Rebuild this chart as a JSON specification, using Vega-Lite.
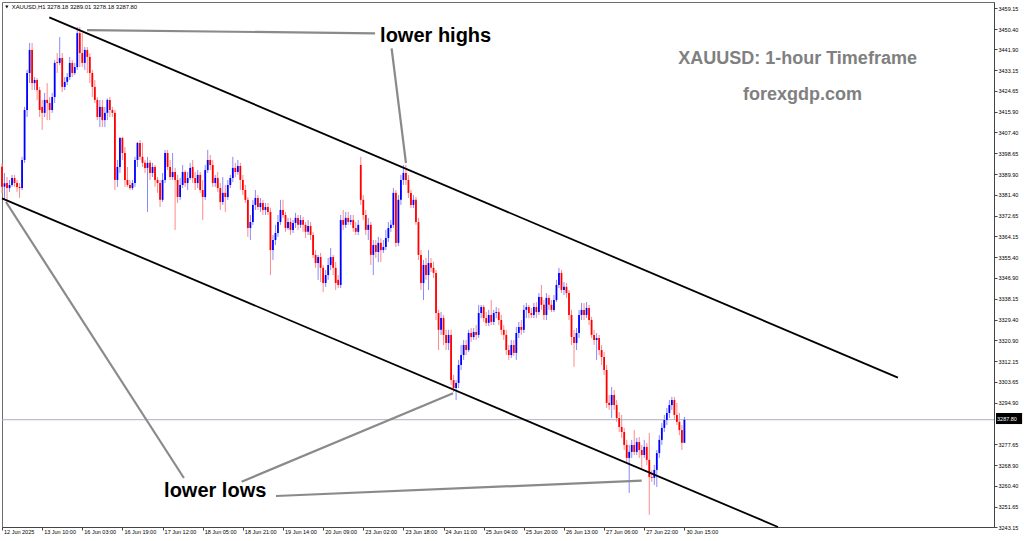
{
"$schema":"https://vega.github.io/schema/vega-lite/v6.json",
"width":992,"height":525,
"autosize":{"type":"none"},
"padding":{"left":2,"top":2,"right":30,"bottom":14},
"background":"white",
"config":{"view":{"stroke":"#6e6e6e","strokeWidth":1},"axis":{"labelFont":"Liberation Sans","labelFontSize":5.5,"labelColor":"#000000","tickColor":"#444444","domainColor":"#444444","grid":false,"labelOverlap":false,"labelFlush":false,"labelBound":false}},
"datasets":{
"candles":[
{"i":0,"o":3393.1,"h":3394.5,"l":3382.0,"c":3384.8},
{"i":1,"o":3384.8,"h":3390.5,"l":3379.3,"c":3386.2},
{"i":2,"o":3386.3,"h":3388.8,"l":3378.4,"c":3384.2},
{"i":3,"o":3384.2,"h":3387.6,"l":3382.6,"c":3385.5},
{"i":4,"o":3385.5,"h":3389.7,"l":3384.7,"c":3388.4},
{"i":5,"o":3388.4,"h":3389.7,"l":3384.7,"c":3386.3},
{"i":6,"o":3386.3,"h":3387.6,"l":3382.6,"c":3384.7},
{"i":7,"o":3384.7,"h":3386.3,"l":3380.1,"c":3384.2},
{"i":8,"o":3384.2,"h":3397.2,"l":3383.4,"c":3395.9},
{"i":9,"o":3395.9,"h":3418.0,"l":3394.7,"c":3416.7},
{"i":10,"o":3416.7,"h":3433.4,"l":3413.8,"c":3432.1},
{"i":11,"o":3432.1,"h":3444.6,"l":3427.9,"c":3441.7},
{"i":12,"o":3441.7,"h":3444.6,"l":3425.0,"c":3427.9},
{"i":13,"o":3427.9,"h":3430.4,"l":3425.0,"c":3429.2},
{"i":14,"o":3429.2,"h":3430.0,"l":3420.9,"c":3425.0},
{"i":15,"o":3425.0,"h":3426.3,"l":3413.8,"c":3416.7},
{"i":16,"o":3418.0,"h":3420.9,"l":3408.4,"c":3415.5},
{"i":17,"o":3415.5,"h":3423.8,"l":3413.8,"c":3420.9},
{"i":18,"o":3420.9,"h":3427.9,"l":3412.5,"c":3419.6},
{"i":19,"o":3419.6,"h":3422.1,"l":3412.5,"c":3416.7},
{"i":20,"o":3416.7,"h":3423.8,"l":3415.5,"c":3422.1},
{"i":21,"o":3422.1,"h":3437.5,"l":3419.6,"c":3436.3},
{"i":22,"o":3436.7,"h":3440.4,"l":3432.1,"c":3436.3},
{"i":23,"o":3436.3,"h":3447.1,"l":3435.4,"c":3438.3},
{"i":24,"o":3438.3,"h":3440.4,"l":3424.2,"c":3426.3},
{"i":25,"o":3426.3,"h":3430.4,"l":3425.0,"c":3428.4},
{"i":26,"o":3428.4,"h":3432.1,"l":3427.1,"c":3430.4},
{"i":27,"o":3430.4,"h":3438.8,"l":3429.2,"c":3436.3},
{"i":28,"o":3436.3,"h":3437.5,"l":3430.4,"c":3432.1},
{"i":29,"o":3432.1,"h":3436.3,"l":3431.3,"c":3434.6},
{"i":30,"o":3434.6,"h":3451.2,"l":3433.4,"c":3448.7},
{"i":31,"o":3448.7,"h":3451.2,"l":3434.6,"c":3440.4},
{"i":32,"o":3440.4,"h":3448.7,"l":3434.6,"c":3436.3},
{"i":33,"o":3436.3,"h":3442.9,"l":3433.4,"c":3441.7},
{"i":34,"o":3441.7,"h":3442.9,"l":3432.1,"c":3438.8},
{"i":35,"o":3438.8,"h":3440.4,"l":3427.9,"c":3432.1},
{"i":36,"o":3432.1,"h":3433.4,"l":3422.1,"c":3426.3},
{"i":37,"o":3426.3,"h":3429.2,"l":3419.6,"c":3420.9},
{"i":38,"o":3420.9,"h":3422.1,"l":3412.5,"c":3413.8},
{"i":39,"o":3413.8,"h":3420.9,"l":3409.6,"c":3418.0},
{"i":40,"o":3418.0,"h":3420.9,"l":3409.6,"c":3412.5},
{"i":41,"o":3412.5,"h":3418.0,"l":3409.6,"c":3415.5},
{"i":42,"o":3415.5,"h":3421.5,"l":3412.5,"c":3420.9},
{"i":43,"o":3420.9,"h":3422.1,"l":3413.8,"c":3416.7},
{"i":44,"o":3416.7,"h":3418.0,"l":3413.8,"c":3415.5},
{"i":45,"o":3415.5,"h":3416.7,"l":3383.4,"c":3387.6},
{"i":46,"o":3387.6,"h":3395.9,"l":3384.7,"c":3393.0},
{"i":47,"o":3393.0,"h":3405.5,"l":3390.5,"c":3405.1},
{"i":48,"o":3405.1,"h":3405.5,"l":3395.9,"c":3398.8},
{"i":49,"o":3398.8,"h":3401.3,"l":3384.7,"c":3387.6},
{"i":50,"o":3387.6,"h":3393.0,"l":3384.7,"c":3385.5},
{"i":51,"o":3385.5,"h":3387.6,"l":3383.4,"c":3384.2},
{"i":52,"o":3384.2,"h":3387.6,"l":3383.4,"c":3386.3},
{"i":53,"o":3386.3,"h":3397.2,"l":3384.7,"c":3395.9},
{"i":54,"o":3395.9,"h":3403.4,"l":3393.0,"c":3403.0},
{"i":55,"o":3403.0,"h":3404.2,"l":3395.9,"c":3397.2},
{"i":56,"o":3397.2,"h":3403.0,"l":3393.0,"c":3394.7},
{"i":57,"o":3394.7,"h":3395.9,"l":3390.5,"c":3392.6},
{"i":58,"o":3392.6,"h":3397.2,"l":3374.3,"c":3394.7},
{"i":59,"o":3394.7,"h":3395.9,"l":3387.6,"c":3390.5},
{"i":60,"o":3390.5,"h":3394.7,"l":3388.8,"c":3393.0},
{"i":61,"o":3393.0,"h":3393.8,"l":3384.7,"c":3387.6},
{"i":62,"o":3387.6,"h":3388.8,"l":3382.2,"c":3386.3},
{"i":63,"o":3386.3,"h":3387.6,"l":3376.3,"c":3379.3},
{"i":64,"o":3379.3,"h":3390.5,"l":3378.4,"c":3387.6},
{"i":65,"o":3387.6,"h":3400.1,"l":3386.3,"c":3398.8},
{"i":66,"o":3398.8,"h":3400.1,"l":3391.7,"c":3393.0},
{"i":67,"o":3393.0,"h":3395.9,"l":3387.6,"c":3388.8},
{"i":68,"o":3388.8,"h":3398.8,"l":3387.6,"c":3390.9},
{"i":69,"o":3390.9,"h":3392.6,"l":3366.8,"c":3387.6},
{"i":70,"o":3387.6,"h":3389.7,"l":3378.0,"c":3380.5},
{"i":71,"o":3380.5,"h":3388.4,"l":3379.3,"c":3385.5},
{"i":72,"o":3385.5,"h":3393.8,"l":3384.2,"c":3390.9},
{"i":73,"o":3390.9,"h":3391.7,"l":3384.7,"c":3386.3},
{"i":74,"o":3386.3,"h":3390.9,"l":3383.4,"c":3388.4},
{"i":75,"o":3388.4,"h":3394.7,"l":3387.6,"c":3392.6},
{"i":76,"o":3393.0,"h":3395.9,"l":3386.3,"c":3388.4},
{"i":77,"o":3388.4,"h":3390.9,"l":3383.4,"c":3386.3},
{"i":78,"o":3386.3,"h":3391.7,"l":3384.2,"c":3389.7},
{"i":79,"o":3389.7,"h":3390.9,"l":3382.2,"c":3383.4},
{"i":80,"o":3383.4,"h":3387.6,"l":3370.9,"c":3380.5},
{"i":81,"o":3380.5,"h":3393.8,"l":3379.3,"c":3391.7},
{"i":82,"o":3391.7,"h":3400.1,"l":3390.5,"c":3395.9},
{"i":83,"o":3395.9,"h":3398.0,"l":3391.7,"c":3393.8},
{"i":84,"o":3393.8,"h":3395.9,"l":3384.7,"c":3386.3},
{"i":85,"o":3386.3,"h":3389.7,"l":3384.7,"c":3388.4},
{"i":86,"o":3388.4,"h":3390.9,"l":3382.6,"c":3384.2},
{"i":87,"o":3384.2,"h":3386.3,"l":3375.1,"c":3378.4},
{"i":88,"o":3378.4,"h":3388.8,"l":3377.2,"c":3382.2},
{"i":89,"o":3382.2,"h":3385.5,"l":3374.3,"c":3380.5},
{"i":90,"o":3380.5,"h":3387.6,"l":3379.3,"c":3385.5},
{"i":91,"o":3385.5,"h":3389.7,"l":3384.2,"c":3388.4},
{"i":92,"o":3388.4,"h":3397.2,"l":3386.7,"c":3392.6},
{"i":93,"o":3392.6,"h":3394.7,"l":3388.8,"c":3390.9},
{"i":94,"o":3390.9,"h":3395.9,"l":3389.7,"c":3393.4},
{"i":95,"o":3393.4,"h":3394.7,"l":3383.4,"c":3387.6},
{"i":96,"o":3387.6,"h":3389.7,"l":3381.3,"c":3383.4},
{"i":97,"o":3383.4,"h":3385.5,"l":3378.0,"c":3379.3},
{"i":98,"o":3379.3,"h":3380.5,"l":3363.9,"c":3367.6},
{"i":99,"o":3367.6,"h":3373.0,"l":3362.6,"c":3370.1},
{"i":100,"o":3370.1,"h":3379.3,"l":3368.9,"c":3377.2},
{"i":101,"o":3377.2,"h":3383.4,"l":3375.1,"c":3380.1},
{"i":102,"o":3380.1,"h":3381.3,"l":3375.1,"c":3376.3},
{"i":103,"o":3376.3,"h":3380.1,"l":3374.3,"c":3378.0},
{"i":104,"o":3378.0,"h":3379.3,"l":3373.0,"c":3375.1},
{"i":105,"o":3375.1,"h":3378.0,"l":3373.0,"c":3376.3},
{"i":106,"o":3376.3,"h":3378.0,"l":3373.0,"c":3374.3},
{"i":107,"o":3374.3,"h":3376.0,"l":3348.0,"c":3358.4},
{"i":108,"o":3358.4,"h":3364.7,"l":3354.3,"c":3362.6},
{"i":109,"o":3362.6,"h":3368.9,"l":3360.5,"c":3365.5},
{"i":110,"o":3365.5,"h":3373.0,"l":3363.9,"c":3370.1},
{"i":111,"o":3370.1,"h":3379.3,"l":3368.9,"c":3375.1},
{"i":112,"o":3375.1,"h":3379.3,"l":3371.8,"c":3373.0},
{"i":113,"o":3373.0,"h":3374.3,"l":3366.0,"c":3367.6},
{"i":114,"o":3367.6,"h":3371.8,"l":3366.8,"c":3370.1},
{"i":115,"o":3370.1,"h":3371.8,"l":3364.7,"c":3366.8},
{"i":116,"o":3366.8,"h":3370.9,"l":3365.5,"c":3369.7},
{"i":117,"o":3369.7,"h":3373.9,"l":3367.6,"c":3371.8},
{"i":118,"o":3371.8,"h":3373.0,"l":3366.8,"c":3368.9},
{"i":119,"o":3368.9,"h":3373.0,"l":3367.6,"c":3370.9},
{"i":120,"o":3370.9,"h":3372.2,"l":3366.0,"c":3368.9},
{"i":121,"o":3368.9,"h":3370.1,"l":3363.4,"c":3366.0},
{"i":122,"o":3366.0,"h":3370.9,"l":3364.7,"c":3368.4},
{"i":123,"o":3368.4,"h":3370.1,"l":3362.6,"c":3364.7},
{"i":124,"o":3364.7,"h":3366.0,"l":3355.1,"c":3356.4},
{"i":125,"o":3356.4,"h":3358.4,"l":3351.0,"c":3353.0},
{"i":126,"o":3353.0,"h":3356.4,"l":3346.0,"c":3355.5},
{"i":127,"o":3355.5,"h":3357.2,"l":3345.1,"c":3351.0},
{"i":128,"o":3351.0,"h":3352.2,"l":3340.9,"c":3344.7},
{"i":129,"o":3344.7,"h":3350.1,"l":3343.1,"c":3348.0},
{"i":130,"o":3348.0,"h":3355.1,"l":3346.0,"c":3352.2},
{"i":131,"o":3352.2,"h":3359.3,"l":3350.1,"c":3355.5},
{"i":132,"o":3355.5,"h":3356.4,"l":3348.0,"c":3351.0},
{"i":133,"o":3351.0,"h":3353.5,"l":3341.8,"c":3344.7},
{"i":134,"o":3346.0,"h":3348.0,"l":3342.6,"c":3343.9},
{"i":135,"o":3343.9,"h":3373.0,"l":3342.6,"c":3370.9},
{"i":136,"o":3370.9,"h":3375.1,"l":3366.8,"c":3368.9},
{"i":137,"o":3368.9,"h":3374.3,"l":3367.6,"c":3371.8},
{"i":138,"o":3371.8,"h":3374.3,"l":3368.9,"c":3370.1},
{"i":139,"o":3370.1,"h":3373.0,"l":3368.9,"c":3370.9},
{"i":140,"o":3370.9,"h":3373.0,"l":3366.0,"c":3367.6},
{"i":141,"o":3367.6,"h":3370.1,"l":3364.7,"c":3366.0},
{"i":142,"o":3366.0,"h":3370.9,"l":3364.7,"c":3368.9},
{"i":143,"o":3393.8,"h":3397.2,"l":3377.2,"c":3379.3},
{"i":144,"o":3379.3,"h":3381.3,"l":3370.9,"c":3373.0},
{"i":145,"o":3373.0,"h":3375.1,"l":3364.7,"c":3366.8},
{"i":146,"o":3366.8,"h":3371.8,"l":3362.6,"c":3368.9},
{"i":147,"o":3368.9,"h":3370.1,"l":3352.2,"c":3356.4},
{"i":148,"o":3356.4,"h":3362.6,"l":3348.0,"c":3360.5},
{"i":149,"o":3360.5,"h":3362.6,"l":3355.1,"c":3357.6},
{"i":150,"o":3357.6,"h":3363.9,"l":3353.4,"c":3361.4},
{"i":151,"o":3361.4,"h":3363.4,"l":3353.4,"c":3358.4},
{"i":152,"o":3358.4,"h":3362.6,"l":3357.2,"c":3359.7},
{"i":153,"o":3359.7,"h":3366.8,"l":3358.4,"c":3363.4},
{"i":154,"o":3363.4,"h":3370.1,"l":3361.8,"c":3367.6},
{"i":155,"o":3367.6,"h":3370.9,"l":3366.0,"c":3368.9},
{"i":156,"o":3368.9,"h":3384.2,"l":3367.6,"c":3382.2},
{"i":157,"o":3382.2,"h":3383.4,"l":3359.7,"c":3361.4},
{"i":158,"o":3361.4,"h":3381.3,"l":3360.1,"c":3379.3},
{"i":159,"o":3379.3,"h":3389.7,"l":3377.2,"c":3387.6},
{"i":160,"o":3387.6,"h":3393.8,"l":3385.5,"c":3390.5},
{"i":161,"o":3390.5,"h":3393.8,"l":3385.5,"c":3387.6},
{"i":162,"o":3387.6,"h":3389.7,"l":3380.1,"c":3382.2},
{"i":163,"o":3382.2,"h":3383.4,"l":3375.9,"c":3377.2},
{"i":164,"o":3377.2,"h":3381.3,"l":3375.9,"c":3379.3},
{"i":165,"o":3379.3,"h":3380.5,"l":3368.9,"c":3370.1},
{"i":166,"o":3370.1,"h":3371.8,"l":3354.3,"c":3356.4},
{"i":167,"o":3356.4,"h":3358.4,"l":3341.8,"c":3344.7},
{"i":168,"o":3344.7,"h":3354.3,"l":3337.6,"c":3352.2},
{"i":169,"o":3352.2,"h":3355.1,"l":3346.0,"c":3348.0},
{"i":170,"o":3348.0,"h":3358.4,"l":3341.8,"c":3353.0},
{"i":171,"o":3353.0,"h":3355.1,"l":3349.3,"c":3351.0},
{"i":172,"o":3351.0,"h":3353.5,"l":3346.8,"c":3348.9},
{"i":173,"o":3348.9,"h":3350.1,"l":3329.3,"c":3332.2},
{"i":174,"o":3332.2,"h":3333.5,"l":3316.8,"c":3325.2},
{"i":175,"o":3325.2,"h":3332.6,"l":3323.1,"c":3330.1},
{"i":176,"o":3330.1,"h":3331.4,"l":3318.9,"c":3323.1},
{"i":177,"o":3323.1,"h":3325.2,"l":3316.8,"c":3319.7},
{"i":178,"o":3319.7,"h":3325.2,"l":3316.8,"c":3323.1},
{"i":179,"o":3323.1,"h":3325.2,"l":3302.3,"c":3304.3},
{"i":180,"o":3304.3,"h":3306.4,"l":3299.3,"c":3301.0},
{"i":181,"o":3301.0,"h":3304.3,"l":3296.0,"c":3303.1},
{"i":182,"o":3303.1,"h":3312.7,"l":3301.0,"c":3310.6},
{"i":183,"o":3310.6,"h":3318.9,"l":3308.5,"c":3314.7},
{"i":184,"o":3314.7,"h":3321.0,"l":3312.7,"c":3318.9},
{"i":185,"o":3318.9,"h":3321.0,"l":3314.7,"c":3316.8},
{"i":186,"o":3316.8,"h":3325.2,"l":3316.0,"c":3323.9},
{"i":187,"o":3323.9,"h":3326.0,"l":3320.2,"c":3322.2},
{"i":188,"o":3322.2,"h":3326.0,"l":3321.0,"c":3324.3},
{"i":189,"o":3324.3,"h":3327.2,"l":3321.0,"c":3323.1},
{"i":190,"o":3323.1,"h":3335.6,"l":3321.8,"c":3332.2},
{"i":191,"o":3332.2,"h":3335.6,"l":3330.1,"c":3334.7},
{"i":192,"o":3334.7,"h":3335.6,"l":3328.5,"c":3330.1},
{"i":193,"o":3330.1,"h":3332.6,"l":3326.8,"c":3328.1},
{"i":194,"o":3328.1,"h":3333.5,"l":3326.8,"c":3331.4},
{"i":195,"o":3331.4,"h":3337.6,"l":3327.2,"c":3328.5},
{"i":196,"o":3328.5,"h":3333.5,"l":3327.2,"c":3332.2},
{"i":197,"o":3332.2,"h":3334.7,"l":3330.1,"c":3332.6},
{"i":198,"o":3332.6,"h":3334.3,"l":3327.2,"c":3329.3},
{"i":199,"o":3329.3,"h":3331.4,"l":3323.1,"c":3325.2},
{"i":200,"o":3325.2,"h":3327.2,"l":3321.0,"c":3323.1},
{"i":201,"o":3323.1,"h":3325.2,"l":3314.7,"c":3316.8},
{"i":202,"o":3316.8,"h":3318.9,"l":3312.7,"c":3314.7},
{"i":203,"o":3314.7,"h":3321.0,"l":3313.5,"c":3318.9},
{"i":204,"o":3318.9,"h":3321.0,"l":3314.3,"c":3315.6},
{"i":205,"o":3315.6,"h":3326.4,"l":3312.7,"c":3323.9},
{"i":206,"o":3323.9,"h":3328.5,"l":3321.8,"c":3326.4},
{"i":207,"o":3326.4,"h":3329.3,"l":3323.1,"c":3325.2},
{"i":208,"o":3325.2,"h":3335.6,"l":3323.9,"c":3333.5},
{"i":209,"o":3333.5,"h":3336.4,"l":3330.1,"c":3334.7},
{"i":210,"o":3334.7,"h":3335.6,"l":3330.1,"c":3332.2},
{"i":211,"o":3332.2,"h":3334.3,"l":3330.1,"c":3331.4},
{"i":212,"o":3331.4,"h":3336.4,"l":3330.1,"c":3334.7},
{"i":213,"o":3334.7,"h":3336.8,"l":3330.1,"c":3332.6},
{"i":214,"o":3332.6,"h":3340.5,"l":3331.4,"c":3338.9},
{"i":215,"o":3338.9,"h":3343.9,"l":3333.5,"c":3335.6},
{"i":216,"o":3335.6,"h":3337.6,"l":3329.3,"c":3331.4},
{"i":217,"o":3331.4,"h":3340.5,"l":3329.3,"c":3338.5},
{"i":218,"o":3338.5,"h":3339.7,"l":3333.5,"c":3335.6},
{"i":219,"o":3335.6,"h":3337.6,"l":3332.6,"c":3333.5},
{"i":220,"o":3333.5,"h":3339.7,"l":3332.6,"c":3337.6},
{"i":221,"o":3337.6,"h":3346.0,"l":3336.8,"c":3343.9},
{"i":222,"o":3343.9,"h":3351.0,"l":3342.6,"c":3348.9},
{"i":223,"o":3348.9,"h":3350.1,"l":3340.5,"c":3341.8},
{"i":224,"o":3341.8,"h":3345.1,"l":3339.7,"c":3343.1},
{"i":225,"o":3343.1,"h":3344.7,"l":3338.5,"c":3340.5},
{"i":226,"o":3340.5,"h":3341.8,"l":3329.3,"c":3331.4},
{"i":227,"o":3331.4,"h":3333.5,"l":3318.9,"c":3322.2},
{"i":228,"o":3322.2,"h":3325.2,"l":3309.8,"c":3319.7},
{"i":229,"o":3319.7,"h":3326.0,"l":3316.8,"c":3323.9},
{"i":230,"o":3323.9,"h":3333.5,"l":3321.8,"c":3331.4},
{"i":231,"o":3331.4,"h":3336.4,"l":3329.3,"c":3333.5},
{"i":232,"o":3333.5,"h":3336.4,"l":3329.3,"c":3331.4},
{"i":233,"o":3331.4,"h":3336.8,"l":3330.1,"c":3334.3},
{"i":234,"o":3334.3,"h":3335.6,"l":3327.2,"c":3329.3},
{"i":235,"o":3329.3,"h":3330.6,"l":3321.8,"c":3323.1},
{"i":236,"o":3323.1,"h":3325.2,"l":3318.9,"c":3321.0},
{"i":237,"o":3321.0,"h":3323.9,"l":3312.7,"c":3321.8},
{"i":238,"o":3321.8,"h":3323.1,"l":3314.7,"c":3316.8},
{"i":239,"o":3316.8,"h":3318.9,"l":3310.6,"c":3313.9},
{"i":240,"o":3313.9,"h":3316.0,"l":3306.4,"c":3308.5},
{"i":241,"o":3308.5,"h":3310.6,"l":3292.7,"c":3294.8},
{"i":242,"o":3294.8,"h":3298.1,"l":3291.9,"c":3293.9},
{"i":243,"o":3293.9,"h":3301.4,"l":3288.5,"c":3298.1},
{"i":244,"o":3298.1,"h":3300.2,"l":3291.9,"c":3293.9},
{"i":245,"o":3293.9,"h":3296.0,"l":3286.9,"c":3288.5},
{"i":246,"o":3288.5,"h":3291.0,"l":3282.7,"c":3284.8},
{"i":247,"o":3284.8,"h":3289.8,"l":3280.2,"c":3282.7},
{"i":248,"o":3282.7,"h":3284.4,"l":3275.2,"c":3277.3},
{"i":249,"o":3277.3,"h":3279.4,"l":3270.2,"c":3271.9},
{"i":250,"o":3271.9,"h":3277.3,"l":3257.3,"c":3274.4},
{"i":251,"o":3274.4,"h":3279.4,"l":3271.9,"c":3277.3},
{"i":252,"o":3277.3,"h":3283.5,"l":3273.1,"c":3274.4},
{"i":253,"o":3274.4,"h":3280.2,"l":3273.1,"c":3278.5},
{"i":254,"o":3278.5,"h":3280.6,"l":3271.9,"c":3275.2},
{"i":255,"o":3275.2,"h":3277.3,"l":3266.9,"c":3273.1},
{"i":256,"o":3273.1,"h":3279.4,"l":3271.9,"c":3276.5},
{"i":257,"o":3276.5,"h":3278.1,"l":3269.0,"c":3271.1},
{"i":258,"o":3271.1,"h":3282.3,"l":3248.2,"c":3264.0},
{"i":259,"o":3264.0,"h":3266.9,"l":3261.9,"c":3263.6},
{"i":260,"o":3263.6,"h":3269.0,"l":3260.6,"c":3266.9},
{"i":261,"o":3266.9,"h":3275.2,"l":3259.8,"c":3273.9},
{"i":262,"o":3273.9,"h":3281.4,"l":3271.9,"c":3279.4},
{"i":263,"o":3279.4,"h":3286.4,"l":3277.3,"c":3284.4},
{"i":264,"o":3284.4,"h":3289.8,"l":3282.7,"c":3287.7},
{"i":265,"o":3287.7,"h":3292.7,"l":3285.6,"c":3290.6},
{"i":266,"o":3290.6,"h":3296.0,"l":3288.5,"c":3293.9},
{"i":267,"o":3293.9,"h":3297.3,"l":3291.9,"c":3296.0},
{"i":268,"o":3296.0,"h":3297.3,"l":3287.7,"c":3289.8},
{"i":269,"o":3289.8,"h":3294.8,"l":3285.6,"c":3286.9},
{"i":270,"o":3286.9,"h":3290.6,"l":3281.4,"c":3283.5},
{"i":271,"o":3283.5,"h":3285.6,"l":3275.2,"c":3278.2},
{"i":272,"o":3278.18,"h":3289.01,"l":3278.18,"c":3287.8}
],
"channel":[
{"x1":18.85,"p1":3455.28,"x2":357.1,"p2":3305.29},
{"x1":0,"p1":3379.91,"x2":309.3,"p2":3243.15}
],
"guides":[
{"x1":33.9,"p1":3449.98,"x2":148.7,"p2":3448.6},
{"x1":155.3,"p1":3442.38,"x2":161.0,"p2":3394.64},
{"x1":1.6,"p1":3378.41,"x2":72.5,"p2":3263.54},
{"x1":95.5,"p1":3262.0,"x2":179.8,"p2":3298.8},
{"x1":109.2,"p1":3256.05,"x2":255.0,"p2":3262.42}
],
"bold":[
{"t":"lower highs","x":150.7,"p":3447.5},
{"t":"lower lows","x":64.6,"p":3258.1}
],
"grey":[
{"t":"XAUUSD: 1-hour Timeframe","x":317.1,"p":3437.8},
{"t":"forexgdp.com","x":319.1,"p":3422.9}
]
},
"layer":[
{"data":{"name":"candles"},
 "mark":{"type":"rule","strokeWidth":1},
 "encoding":{
  "x":{"field":"i","type":"quantitative","scale":{"domain":[0,395.4],"nice":false,"zero":false},
   "axis":{"orient":"bottom","title":null,"grid":false,"tickCount":100,"values":[0,16,32,48,64,80,96,112,128,144,160,176,192,208,224,240,256,272],
    "labelExpr":"['12 Jun 2025','13 Jun 10:00','16 Jun 03:00','16 Jun 19:00','17 Jun 12:00','18 Jun 05:00','18 Jun 21:00','19 Jun 14:00','20 Jun 09:00','23 Jun 02:00','23 Jun 18:00','24 Jun 11:00','25 Jun 04:00','25 Jun 20:00','26 Jun 13:00','27 Jun 06:00','27 Jun 22:00','30 Jun 15:00'][round(datum.value/16)]",
    "labelAlign":"left","labelBaseline":"top","labelOffset":1.5,"labelPadding":-0.5,"tickSize":3,"labelFlush":false,"labelOverlap":false}},
  "y":{"field":"l","type":"quantitative","scale":{"domain":[3243.15,3461.65],"nice":false,"zero":false},
   "axis":{"orient":"right","title":null,"grid":false,"tickCount":100,"values":[3459.15,3450.4,3441.9,3433.15,3424.65,3415.9,3407.4,3398.65,3389.9,3381.4,3372.65,3364.15,3355.4,3346.9,3338.15,3329.4,3320.9,3312.15,3303.65,3294.9,3277.65,3268.9,3260.4,3251.65,3243.15],
    "format":".2f","tickSize":3,"labelPadding":1,"labelAlign":"left","labelBaseline":"middle","labelFlush":false,"labelOverlap":false}},
  "y2":{"field":"h"},
  "color":{"condition":{"test":"datum.c >= datum.o","value":"#8a8aff"},"value":"#ff8a8a"}}},
{"data":{"values":[{"p":3287.8}]},
 "mark":{"type":"rule","color":"#aab2bd","strokeWidth":1},
 "encoding":{"y":{"field":"p","type":"quantitative"}}},
{"data":{"name":"candles"},
 "mark":{"type":"rule","strokeWidth":1.8},
 "encoding":{
  "x":{"field":"i","type":"quantitative"},
  "y":{"field":"o","type":"quantitative"},
  "y2":{"field":"c"},
  "color":{"condition":{"test":"datum.c >= datum.o","value":"#0000ff"},"value":"#ff0000"}}},
{"data":{"name":"channel"},
 "mark":{"type":"rule","color":"#000000","strokeWidth":1.8},
 "encoding":{
  "x":{"field":"x1","type":"quantitative"},
  "y":{"field":"p1","type":"quantitative"},
  "x2":{"field":"x2"},"y2":{"field":"p2"}}},
{"data":{"name":"guides"},
 "mark":{"type":"rule","color":"#8a8a8a","strokeWidth":2.2},
 "encoding":{
  "x":{"field":"x1","type":"quantitative"},
  "y":{"field":"p1","type":"quantitative"},
  "x2":{"field":"x2"},"y2":{"field":"p2"}}},
{"data":{"name":"bold"},
 "mark":{"type":"text","align":"left","baseline":"middle","font":"Liberation Sans","fontWeight":"bold","fontSize":20,"color":"#000000"},
 "encoding":{
  "x":{"field":"x","type":"quantitative"},
  "y":{"field":"p","type":"quantitative"},
  "text":{"field":"t"}}},
{"data":{"name":"grey"},
 "mark":{"type":"text","align":"center","baseline":"middle","font":"Liberation Sans","fontWeight":"bold","fontSize":18,"color":"#808080"},
 "encoding":{
  "x":{"field":"x","type":"quantitative"},
  "y":{"field":"p","type":"quantitative"},
  "text":{"field":"t"}}},
{"data":{"values":[{"t":"XAUUSD,H1  3278.18 3289.01 3278.18 3287.80","x":3.87,"p":3459.6}]},
 "mark":{"type":"text","align":"left","baseline":"middle","font":"Liberation Sans","fontSize":5.9,"color":"#000000"},
 "encoding":{
  "x":{"field":"x","type":"quantitative"},
  "y":{"field":"p","type":"quantitative"},
  "text":{"field":"t"}}},
{"data":{"values":[{"t":"▼","x":1.3,"p":3459.6}]},
 "mark":{"type":"text","align":"left","baseline":"middle","font":"DejaVu Sans","fontSize":4,"color":"#000000"},
 "encoding":{
  "x":{"field":"x","type":"quantitative"},
  "y":{"field":"p","type":"quantitative"},
  "text":{"field":"t"}}},
{"data":{"values":[{"x1":396.2,"x2":406.6,"p1":3290.6,"p2":3286.0}]},
 "mark":{"type":"rect","color":"#000000"},
 "encoding":{
  "x":{"field":"x1","type":"quantitative"},
  "x2":{"field":"x2"},
  "y":{"field":"p1","type":"quantitative"},
  "y2":{"field":"p2"}}},
{"data":{"values":[{"t":"3287.80","x":396.6,"p":3288.2}]},
 "mark":{"type":"text","align":"left","baseline":"middle","font":"Liberation Sans","fontSize":5.5,"color":"#ffffff"},
 "encoding":{
  "x":{"field":"x","type":"quantitative"},
  "y":{"field":"p","type":"quantitative"},
  "text":{"field":"t"}}}
]
}
